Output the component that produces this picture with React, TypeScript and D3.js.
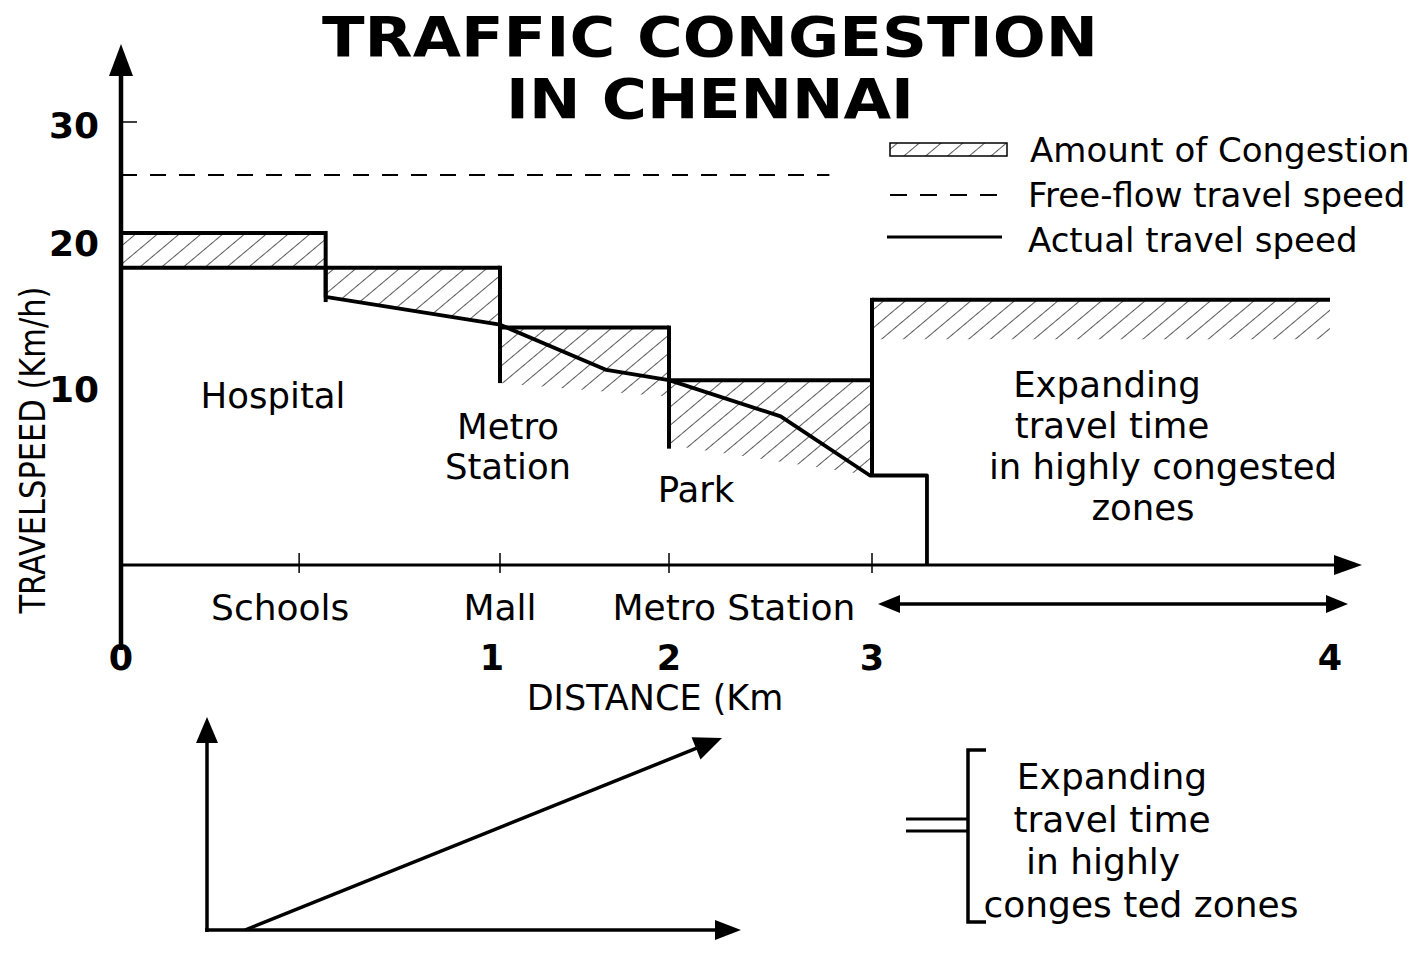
import React, { useEffect, useRef } from 'react';
import * as d3 from 'd3';

const W = 1418;
const H = 953;

// axis ticks
const distanceTicks = [0, 1, 2, 3, 4];
const distanceTickMarks = [0.47, 1, 2, 3];
const speedTicks = [10, 20, 30];
const speedTickMarks = [30];

// congestion zones (km, km/h)
const zoneStart = [0, 0.54, 1, 2, 3];
const zoneEnd = [0.54, 1, 2, 3, 4];
const zoneSpeed = [20.6, 18.1, 14.0, 10.4, 15.9];
const zoneFloorStart = [18.1, 16.1, 10.2, 6.7, 13.2];
const zoneFloorEnd = [18.1, 14.2, 9.4, 5.0, 13.2];
const zoneEdgeLow = [15.75, 10.2, 6.5, 5.0];

// actual travel speed
const actualDistance = [0, 0.54, 0.54, 1, 1.63, 2, 2.55, 2.99, 3.12, 3.12];
const actualSpeed = [18.1, 18.1, 16.1, 14.2, 11.1, 10.4, 8.3, 5.0, 5.0, 0];

// free-flow speed
const freeFlowSpeed = 25.5;
const freeFlowUntil = 2.79;

// labels
const titleLines = ['TRAFFIC CONGESTION', 'IN CHENNAI'];
const placeLabels = ['Schools', 'Mall', 'Metro Station'];
const placeDistance = [0.42, 1.0, 2.32];
const legendItems = ['Amount of Congestion', 'Free-flow travel speed', 'Actual travel speed'];
const bracketText = ['Expanding', 'travel time', 'in highly', 'conges ted zones'];

const FONT = '"DejaVu Sans", sans-serif';

function arrowHead(g, tipX, tipY, angle, len, half) {
  // angle in radians, direction the arrow points to
  const bx = tipX - Math.cos(angle) * len;
  const by = tipY - Math.sin(angle) * len;
  const nx = -Math.sin(angle) * half;
  const ny = Math.cos(angle) * half;
  g.append('path')
    .attr('d', `M${tipX},${tipY}L${bx + nx},${by + ny}L${bx - nx},${by - ny}Z`)
    .attr('fill', '#000');
}

const App = () => {
  const ref = useRef(null);

  useEffect(() => {
    const svg = d3.select(ref.current);
    svg.selectAll('*').remove();

    const x = d3.scaleLinear().domain([0, 1, 2, 3, 4]).range([121, 500, 669, 872, 1330]);
    const y = d3.scaleLinear().domain([0, 10, 20, 30]).range([565, 386, 240, 122]);

    const defs = svg.append('defs');
    defs.append('pattern')
      .attr('id', 'hatch')
      .attr('patternUnits', 'userSpaceOnUse')
      .attr('width', 14)
      .attr('height', 14)
      .attr('patternTransform', 'rotate(50)')
      .append('line')
      .attr('x1', 0).attr('y1', 0).attr('x2', 0).attr('y2', 14)
      .attr('stroke', '#000')
      .attr('stroke-width', 1.3);

    svg.append('rect').attr('width', W).attr('height', H).attr('fill', '#fff');

    // title
    svg.append('g')
      .selectAll('text')
      .data(titleLines)
      .join('text')
      .attr('x', 710)
      .attr('y', (d, i) => 56 + i * 62)
      .attr('text-anchor', 'middle')
      .attr('font-family', FONT)
      .attr('font-weight', 'bold')
      .attr('font-size', 56)
      .attr('textLength', (d, i) => (i === 0 ? 776 : 408))
      .attr('lengthAdjust', 'spacingAndGlyphs')
      .text(d => d);

    // hatched congestion
    const zones = zoneStart.map((s, i) => ({
      s, e: zoneEnd[i], top: zoneSpeed[i], f0: zoneFloorStart[i], f1: zoneFloorEnd[i]
    }));
    svg.append('g')
      .selectAll('path')
      .data(zones)
      .join('path')
      .attr('d', d => `M${x(d.s)},${y(d.top)}L${x(d.e)},${y(d.top)}L${x(d.e)},${y(d.f1)}L${x(d.s)},${y(d.f0)}Z`)
      .attr('fill', 'url(#hatch)');

    // free-flow line
    svg.append('line')
      .attr('x1', x(0)).attr('x2', x(freeFlowUntil))
      .attr('y1', y(freeFlowSpeed)).attr('y2', y(freeFlowSpeed))
      .attr('stroke', '#000')
      .attr('stroke-width', 2)
      .attr('stroke-dasharray', '16,13');

    // zone tops and edges
    const outline = svg.append('g').attr('stroke', '#000').attr('stroke-width', 4).attr('fill', 'none');
    outline.selectAll('line.top')
      .data(zones)
      .join('line')
      .attr('class', 'top')
      .attr('x1', d => x(d.s)).attr('x2', d => x(d.e))
      .attr('y1', d => y(d.top)).attr('y2', d => y(d.top));
    outline.selectAll('line.edge')
      .data(zoneEdgeLow)
      .join('line')
      .attr('class', 'edge')
      .attr('x1', (d, i) => x(zoneEnd[i])).attr('x2', (d, i) => x(zoneEnd[i]))
      .attr('y1', (d, i) => y(Math.max(zoneSpeed[i], zoneSpeed[i + 1] || 0)) - 2)
      .attr('y2', d => y(d));

    // actual speed
    const line = d3.line()
      .x(d => x(d[0]))
      .y(d => y(d[1]));
    svg.append('path')
      .datum(actualDistance.map((d, i) => [d, actualSpeed[i]]))
      .attr('d', line)
      .attr('fill', 'none')
      .attr('stroke', '#000')
      .attr('stroke-width', 3.8)
      .attr('stroke-linejoin', 'round');

    // y axis
    const ax = svg.append('g').attr('stroke', '#000');
    ax.append('line')
      .attr('x1', x(0)).attr('x2', x(0))
      .attr('y1', 70).attr('y2', 650)
      .attr('stroke-width', 4.5);
    arrowHead(svg, x(0), 44, -Math.PI / 2, 32, 12);
    ax.selectAll('line.ytick')
      .data(speedTickMarks)
      .join('line')
      .attr('class', 'ytick')
      .attr('x1', x(0)).attr('x2', x(0) + 16)
      .attr('y1', d => y(d)).attr('y2', d => y(d))
      .attr('stroke-width', 1.5);
    svg.append('g')
      .selectAll('text')
      .data(speedTicks)
      .join('text')
      .attr('x', 99)
      .attr('y', d => y(d) + 3)
      .attr('dy', '0.36em')
      .attr('text-anchor', 'end')
      .attr('font-family', FONT)
      .attr('font-weight', 'bold')
      .attr('font-size', 36)
      .text(d => d);

    svg.append('text')
      .attr('transform', 'translate(45,450) rotate(-90)')
      .attr('text-anchor', 'middle')
      .attr('font-family', FONT)
      .attr('font-size', 35)
      .attr('textLength', 327)
      .attr('lengthAdjust', 'spacingAndGlyphs')
      .text('TRAVELSPEED (Km/h)');

    // x axis
    ax.append('line')
      .attr('x1', x(0)).attr('x2', 1345)
      .attr('y1', y(0)).attr('y2', y(0))
      .attr('stroke-width', 3);
    arrowHead(svg, 1362, y(0), 0, 28, 10);
    ax.selectAll('line.xtick')
      .data(distanceTickMarks)
      .join('line')
      .attr('class', 'xtick')
      .attr('x1', d => x(d)).attr('x2', d => x(d))
      .attr('y1', y(0) - 12).attr('y2', y(0) + 8)
      .attr('stroke-width', 1.5);
    svg.append('g')
      .selectAll('text')
      .data(distanceTicks)
      .join('text')
      .attr('x', d => x(d) + (d === 1 ? -8 : 0))
      .attr('y', 670)
      .attr('text-anchor', 'middle')
      .attr('font-family', FONT)
      .attr('font-weight', 'bold')
      .attr('font-size', 35)
      .text(d => d);
    svg.append('text')
      .attr('x', 655).attr('y', 710)
      .attr('text-anchor', 'middle')
      .attr('font-family', FONT)
      .attr('font-size', 35)
      .text('DISTANCE (Km');

    svg.append('g')
      .selectAll('text')
      .data(placeLabels)
      .join('text')
      .attr('x', (d, i) => x(placeDistance[i]))
      .attr('y', 620)
      .attr('text-anchor', 'middle')
      .attr('font-family', FONT)
      .attr('font-size', 36)
      .text(d => d);

    // double arrow beyond 3 km
    ax.append('line')
      .attr('x1', 895).attr('x2', 1332)
      .attr('y1', 604).attr('y2', 604)
      .attr('stroke-width', 3.5);
    arrowHead(svg, 878, 604, Math.PI, 22, 9);
    arrowHead(svg, 1348, 604, 0, 22, 9);

    // area annotations
    const note = (lines, cx, cy, lh) => {
      svg.append('g')
        .selectAll('text')
        .data(lines)
        .join('text')
        .attr('x', (d, i) => (Array.isArray(cx) ? cx[i] : cx))
        .attr('y', (d, i) => cy + i * lh)
        .attr('text-anchor', 'middle')
        .attr('font-family', FONT)
        .attr('font-size', 35.5)
        .text(d => d);
    };
    note(['Hospital'], 273, 408, 40);
    note(['Metro', 'Station'], 508, 439, 40);
    note(['Park'], 696, 502, 40);
    note(['Expanding', 'travel time', 'in highly congested', 'zones'], [1107, 1112, 1163, 1143], 397, 41);

    // legend
    const lg = svg.append('g');
    lg.append('rect')
      .attr('x', 890).attr('y', 143).attr('width', 117).attr('height', 13)
      .attr('fill', 'url(#hatch)')
      .attr('stroke', '#000').attr('stroke-width', 1.5);
    lg.append('line')
      .attr('x1', 890).attr('x2', 1002).attr('y1', 195).attr('y2', 195)
      .attr('stroke', '#000').attr('stroke-width', 2).attr('stroke-dasharray', '17,13');
    lg.append('line')
      .attr('x1', 887).attr('x2', 1002).attr('y1', 237).attr('y2', 237)
      .attr('stroke', '#000').attr('stroke-width', 3);
    lg.selectAll('text')
      .data(legendItems)
      .join('text')
      .attr('x', (d, i) => (i === 0 ? 1030 : 1028))
      .attr('y', (d, i) => 162 + i * 45)
      .attr('font-family', FONT)
      .attr('font-size', 34)
      .text(d => d);

    // inset sketch
    const inset = svg.append('g').attr('stroke', '#000').attr('stroke-width', 3.5);
    inset.append('line').attr('x1', 207).attr('x2', 207).attr('y1', 932).attr('y2', 740);
    arrowHead(svg, 207, 717, -Math.PI / 2, 26, 11);
    inset.append('line').attr('x1', 205).attr('x2', 718).attr('y1', 930).attr('y2', 930);
    arrowHead(svg, 741, 930, 0, 26, 10);
    const ang = Math.atan2(738 - 930, 722 - 245);
    inset.append('line').attr('x1', 245).attr('y1', 930)
      .attr('x2', 722 - Math.cos(ang) * 20).attr('y2', 738 - Math.sin(ang) * 20);
    arrowHead(svg, 722, 738, ang, 28, 12);

    // bracket note
    const br = svg.append('g').attr('stroke', '#000').attr('stroke-width', 3.5).attr('fill', 'none');
    br.append('path').attr('d', 'M986,750H968V922H986');
    br.append('line').attr('x1', 906).attr('x2', 968).attr('y1', 819).attr('y2', 819).attr('stroke-width', 3);
    br.append('line').attr('x1', 906).attr('x2', 968).attr('y1', 831).attr('y2', 831).attr('stroke-width', 3);
    svg.append('g')
      .selectAll('text')
      .data(bracketText)
      .join('text')
      .attr('x', (d, i) => [1112, 1112, 1103, 1141][i])
      .attr('y', (d, i) => 789 + i * 42.5)
      .attr('text-anchor', 'middle')
      .attr('font-family', FONT)
      .attr('font-size', 36)
      .text(d => d);
  }, []);

  return (
    <svg
      ref={ref}
      width={W}
      height={H}
      style={{ position: 'absolute', left: 0, top: 0, display: 'block' }}
    />
  );
};

export default App;
